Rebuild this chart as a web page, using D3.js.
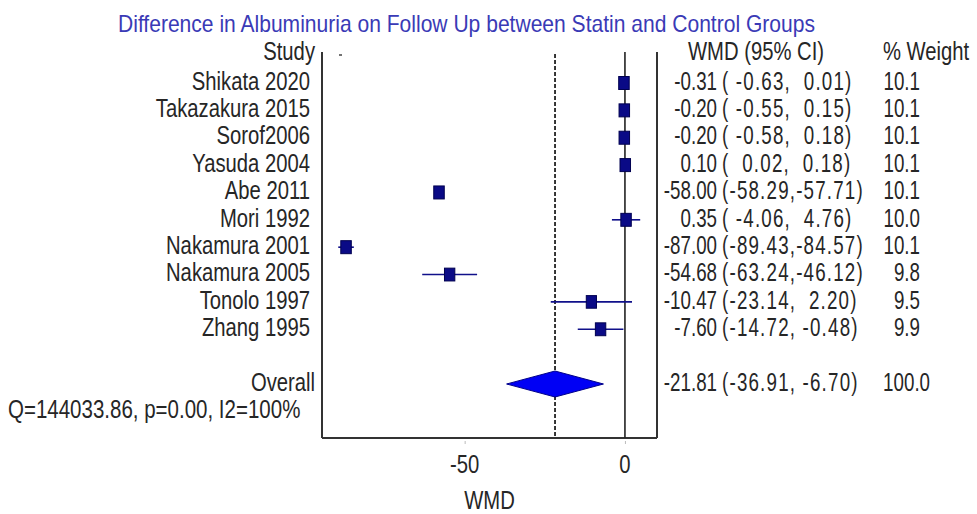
<!DOCTYPE html>
<html>
<head>
<meta charset="utf-8">
<script src="https://cdn.jsdelivr.net/npm/d3@7"></script>
<style>
  html, body { margin: 0; padding: 0; background: #fff; }
  svg { display: block; }
  text { font-family: "Liberation Sans", Arial, sans-serif; fill: #262626; white-space: pre; }
</style>
</head>
<body>
<svg id="chart" width="977" height="514"></svg>
<script>
// ---------------- data ----------------
const titleText = "Difference in Albuminuria on Follow Up between Statin and Control Groups";
const studies = ["Shikata 2020", "Takazakura 2015", "Sorof2006", "Yasuda 2004", "Abe 2011",
                 "Mori 1992", "Nakamura 2001", "Nakamura 2005", "Tonolo 1997", "Zhang 1995"];
const wmd    = [-0.31, -0.20, -0.20, 0.10, -58.00, 0.35, -87.00, -54.68, -10.47, -7.60];
const ciLow  = [-0.63, -0.55, -0.58, 0.02, -58.29, -4.06, -89.43, -63.24, -23.14, -14.72];
const ciHigh = [0.01, 0.15, 0.18, 0.18, -57.71, 4.76, -84.57, -46.12, 2.20, -0.48];
const weights = [10.1, 10.1, 10.1, 10.1, 10.1, 10.0, 10.1, 9.8, 9.5, 9.9];
const overallLabel = "Overall";
const overall = [-21.81, -36.91, -6.70, 100.0]; // est, low, high, weight
const heterogeneity = "Q=144033.86, p=0.00, I2=100%";
const xTicks = [-50, 0];
const xDomain = [-94.5, 10];
const headers = ["Study", "WMD (95% CI)", "% Weight"];
const xAxisLabel = "WMD";

// ---------------- layout ----------------
const svg = d3.select("#chart");
const SX = 0.81;         // horizontal condensing to mimic narrow font
const SXR = 0.75;        // numbers column
const FS = 25;
const pLeft = 322, pRight = 657, pTop = 52, pBottom = 438;

const x = d3.scaleLinear().domain(xDomain).range([pLeft, pRight]);
// row index -> y (header at -1, studies 0..9, overall at 11, heterogeneity 12)
const y = d3.scaleLinear().domain([0, 11]).range([83, 384]);

function txt(px, py, s, anchor = "start", opts = {}) {
  const t = svg.append("text")
    .attr("transform", `translate(${px},${py}) scale(${opts.sx || SX},1)`)
    .attr("text-anchor", anchor)
    .attr("dy", "0.35em")
    .style("font-size", (opts.fs || FS) + "px")
    .text(s);
  if (opts.fill) t.style("fill", opts.fill);
  if (opts.ls) t.style("letter-spacing", opts.ls + "px");
  return t;
}
const f2 = v => v.toFixed(2);
const pad = (s, n) => " ".repeat(Math.max(0, n - s.length)) + s;

// title
svg.append("text")
  .attr("x", 118).attr("y", 24).attr("dy", "0.35em")
  .attr("textLength", 697).attr("lengthAdjust", "spacingAndGlyphs")
  .style("font-size", "24px").style("fill", "#3a3ab6")
  .text(titleText);

// headers
txt(315, y(-1) - 4, headers[0], "end");
txt(688, y(-1) - 4, headers[1], "start");
txt(883, y(-1) - 4, headers[2], "start");

// plot frame (left, right)
const frame = svg.append("g").attr("stroke", "#333").attr("stroke-width", 2).attr("fill", "none");
frame.append("line").attr("x1", pLeft).attr("x2", pLeft).attr("y1", pTop).attr("y2", pBottom);
frame.append("line").attr("x1", pRight).attr("x2", pRight).attr("y1", pTop).attr("y2", pBottom);

// bottom axis
const axis = svg.append("g").attr("transform", `translate(0,${pBottom})`)
  .call(d3.axisBottom(x).tickValues(xTicks).tickSize(4).tickPadding(14).tickFormat(d3.format("d")));
axis.select(".domain").attr("stroke", "#333").attr("stroke-width", 2).attr("d", `M${pLeft},0H${pRight}`);
axis.selectAll(".tick line").attr("stroke", "#bbb").attr("y1", 3).attr("y2", 6);
axis.selectAll(".tick text").remove();
xTicks.forEach(v => txt(x(v), pBottom + 26, String(v), "middle"));

// x label
txt((pLeft + pRight) / 2, 500, xAxisLabel, "middle");

// small dash near top-left
svg.append("line").attr("x1", 339).attr("x2", 342).attr("y1", 55).attr("y2", 55)
  .attr("stroke", "#444").attr("stroke-width", 1.5);

// zero line
svg.append("line").attr("x1", x(0)).attr("x2", x(0)).attr("y1", pTop).attr("y2", pBottom)
  .attr("stroke", "#222").attr("stroke-width", 1.6);
// overall dashed line
svg.append("line").attr("x1", x(overall[0])).attr("x2", x(overall[0])).attr("y1", pTop + 2).attr("y2", pBottom)
  .attr("stroke", "#222").attr("stroke-width", 1.8).attr("stroke-dasharray", "4,2");

// study rows
const rowG = svg.append("g");
studies.forEach((s, i) => {
  const yy = y(i);
  txt(310, yy - 2, s, "end");
  rowG.append("line").attr("x1", x(ciLow[i])).attr("x2", x(ciHigh[i])).attr("y1", yy).attr("y2", yy)
    .attr("stroke", "#10108a").attr("stroke-width", 1.6);
  const k = Math.sqrt(weights[i] / 10.1);
  const w = 10.5 * k, h = 13 * k;
  rowG.append("rect").attr("x", x(wmd[i]) - w / 2).attr("y", yy - h / 2).attr("width", w).attr("height", h)
    .attr("fill", "#0a0a86").attr("stroke", "#000050").attr("stroke-width", 1);
  txt(717, yy - 2, f2(wmd[i]), "end", { sx: SXR });
  const ci = "(" + pad(f2(ciLow[i]), 6) + "," + pad(f2(ciHigh[i]), 6) + ")";
  txt(722, yy - 2, ci, "start", { sx: SXR, ls: 1.6 });
  txt(920, yy - 2, weights[i].toFixed(1), "end", { sx: SXR });
});

// overall
const yo = y(11);
txt(315, yo - 2, overallLabel, "end");
const dPts = [[x(overall[1]), yo], [x(overall[0]), yo - 13], [x(overall[2]), yo], [x(overall[0]), yo + 13]];
svg.append("path").attr("d", d3.line()(dPts) + "Z")
  .attr("fill", "#0000f5").attr("stroke", "#00008a").attr("stroke-width", 1);
txt(717, yo - 2, f2(overall[0]), "end", { sx: SXR });
txt(722, yo - 2, "(" + f2(overall[1]) + ", " + f2(overall[2]) + ")", "start", { sx: SXR, ls: 1.6 });
txt(930, yo - 2, overall[3].toFixed(1), "end", { sx: SXR });

// heterogeneity
txt(8, y(12) - 2, heterogeneity, "start", { sx: 0.82 });
</script>
</body>
</html>
